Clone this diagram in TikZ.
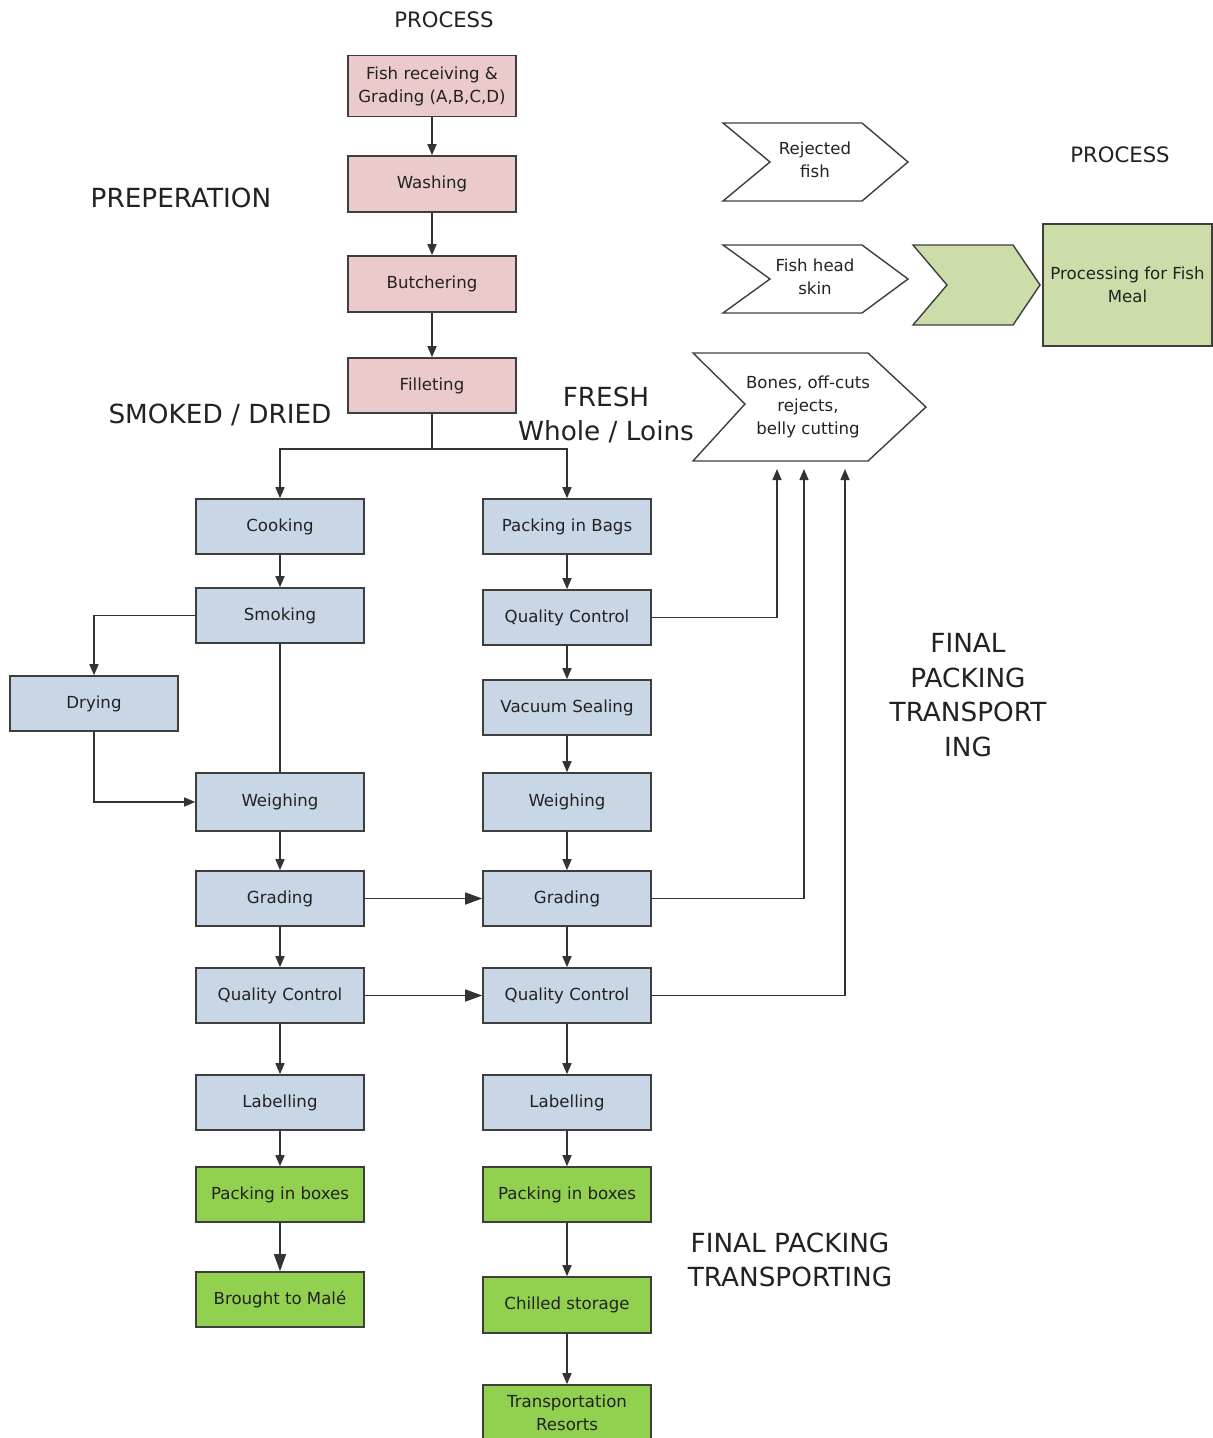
\documentclass[tikz,border=0pt]{standalone}
\usepackage{fontspec}
\setmainfont{DejaVu Sans}
\usetikzlibrary{arrows.meta,calc}
\definecolor{pinkc}{HTML}{EACACA}
\definecolor{bluec}{HTML}{C9D6E6}
\definecolor{greenc}{HTML}{92D050}
\definecolor{lgreenc}{HTML}{CDDDAA}
\definecolor{boxline}{HTML}{3E3E3E}
\definecolor{linec}{HTML}{333333}
\definecolor{txt}{HTML}{222222}
\begin{document}
\begin{tikzpicture}[x=1pt,y=-1pt,
  box/.style={draw=boxline, line width=1.6pt, minimum width=168pt, minimum height=55pt, inner sep=2pt, align=center, font=\fontsize{16.6}{23}\selectfont, text=txt},
  pinkbox/.style={box, fill=pinkc},
  bluebox/.style={box, fill=bluec},
  greenbox/.style={box, fill=greenc},
  chev/.style={draw=boxline, line width=1.4pt, fill=white},
  chevtxt/.style={align=center, font=\fontsize{16.6}{23}\selectfont, text=txt, inner sep=0pt},
  lbl/.style={font=\fontsize{26.3}{34.5}\selectfont, text=txt, align=center, inner sep=0pt},
  slbl/.style={font=\fontsize{21.2}{24}\selectfont, text=txt, align=center, inner sep=0pt},
  conn/.style={draw=linec, line width=1.5pt},
  arr/.style={conn, -{Triangle[length=11pt,width=9pt]}},
  bigarr/.style={conn, -{Triangle[length=17pt,width=12pt]}},
]
\useasboundingbox[fill=white] (0,0) rectangle (1213,1438);

% labels
\node[slbl] (proc1) at (444,20) {PROCESS};
\node[slbl] (proc2) at (1120,155) {PROCESS};
\node[lbl] (prep) at (181,198) {PREPERATION};
\node[lbl] (smk) at (220,415) {SMOKED / DRIED};
\node[lbl] (fresh) at (606,415) {FRESH\\Whole / Loins};
\node[lbl] (fpt1) at (968,695) {FINAL\\PACKING\\TRANSPORT\\ING};
\node[lbl] (fpt2) at (790,1260) {FINAL PACKING\\TRANSPORTING};

% preparation boxes
\node[pinkbox, minimum height=61pt] (fish) at (432,86) {Fish receiving \&\\Grading (A,B,C,D)};
\node[pinkbox, minimum height=56pt] (wash) at (432,184) {Washing};
\node[pinkbox, minimum height=56pt] (butch) at (432,284) {Butchering};
\node[pinkbox] (fillet) at (432,385.5) {Filleting};

% left column
\node[bluebox] (cook) at (280,526.5) {Cooking};
\node[bluebox] (smoke) at (280,615.5) {Smoking};
\node[bluebox] (dry) at (94,703.5) {Drying};
\node[bluebox, minimum height=58pt] (weighL) at (280,802) {Weighing};
\node[bluebox] (gradeL) at (280,898.5) {Grading};
\node[bluebox] (qcL) at (280,995.5) {Quality Control};
\node[bluebox] (labL) at (280,1102.5) {Labelling};
\node[greenbox] (packL) at (280,1194.5) {Packing in boxes};
\node[greenbox] (male) at (280,1299.5) {Brought to Malé};

% right column
\node[bluebox] (bags) at (567,526.5) {Packing in Bags};
\node[bluebox] (qcR1) at (567,617.5) {Quality Control};
\node[bluebox] (vac) at (567,707.5) {Vacuum Sealing};
\node[bluebox, minimum height=58pt] (weighR) at (567,802) {Weighing};
\node[bluebox] (gradeR) at (567,898.5) {Grading};
\node[bluebox] (qcR) at (567,995.5) {Quality Control};
\node[bluebox] (labR) at (567,1102.5) {Labelling};
\node[greenbox] (packR) at (567,1194.5) {Packing in boxes};
\node[greenbox, minimum height=56pt] (chill) at (567,1305) {Chilled storage};
\node[greenbox, minimum height=56pt] (trans) at (567,1413) {Transportation\\Resorts};

% chevrons
\draw[chev] (723,123) -- (862,123) -- (908,162) -- (862,201) -- (723,201) -- (770,162) -- cycle;
\node[chevtxt] (rej) at (815,160) {Rejected\\fish};
\draw[chev] (723,245) -- (862,245) -- (908,279) -- (862,313) -- (723,313) -- (770,279) -- cycle;
\node[chevtxt] (head) at (815,277) {Fish head\\skin};
\draw[chev, fill=lgreenc] (913,245) -- (1013,245) -- (1040,285) -- (1013,325) -- (913,325) -- (947,285) -- cycle;
\node[box, fill=lgreenc, minimum width=169pt, minimum height=122pt, inner sep=0pt] (meal) at (1127.5,285) {Processing for Fish\\Meal};
\draw[chev] (693,353) -- (868,353) -- (926,407) -- (868,461) -- (693,461) -- (745,404) -- cycle;
\node[chevtxt] (bones) at (808,407) {Bones, off-cuts\\rejects,\\belly cutting};

\coordinate (split) at (432,449);
\coordinate (b1) at (777,469);
\coordinate (b2) at (804,469);
\coordinate (b3) at (845,469);

% connectors preparation
\draw[arr] (fish.south) -- (wash.north);
\draw[arr] (wash.south) -- (butch.north);
\draw[arr] (butch.south) -- (fillet.north);
\draw[conn] (fillet.south) -- (split);
\draw[arr] (split) -| (cook.north);
\draw[arr] (split) -| (bags.north);

% left column connectors
\draw[arr] (cook.south) -- (smoke.north);
\draw[arr] (smoke.west) -| (dry.north);
\draw[arr] (dry.south) |- (weighL.west);
\draw[conn] (smoke.south) -- (weighL.north);
\draw[arr] (weighL.south) -- (gradeL.north);
\draw[arr] (gradeL.south) -- (qcL.north);
\draw[arr] (qcL.south) -- (labL.north);
\draw[arr] (labL.south) -- (packL.north);
\draw[bigarr] (packL.south) -- (male.north);

% right column connectors
\draw[arr] (bags.south) -- (qcR1.north);
\draw[arr] (qcR1.south) -- (vac.north);
\draw[arr] (vac.south) -- (weighR.north);
\draw[arr] (weighR.south) -- (gradeR.north);
\draw[arr] (gradeR.south) -- (qcR.north);
\draw[arr] (qcR.south) -- (labR.north);
\draw[arr] (labR.south) -- (packR.north);
\draw[arr] (packR.south) -- (chill.north);
\draw[arr] (chill.south) -- (trans.north);

% cross connectors
\draw[bigarr] (gradeL.east) -- (gradeR.west);
\draw[bigarr] (qcL.east) -- (qcR.west);
\draw[arr] (qcR1.east) -| (b1);
\draw[arr] (gradeR.east) -| (b2);
\draw[arr] (qcR.east) -| (b3);
\end{tikzpicture}
\end{document}
